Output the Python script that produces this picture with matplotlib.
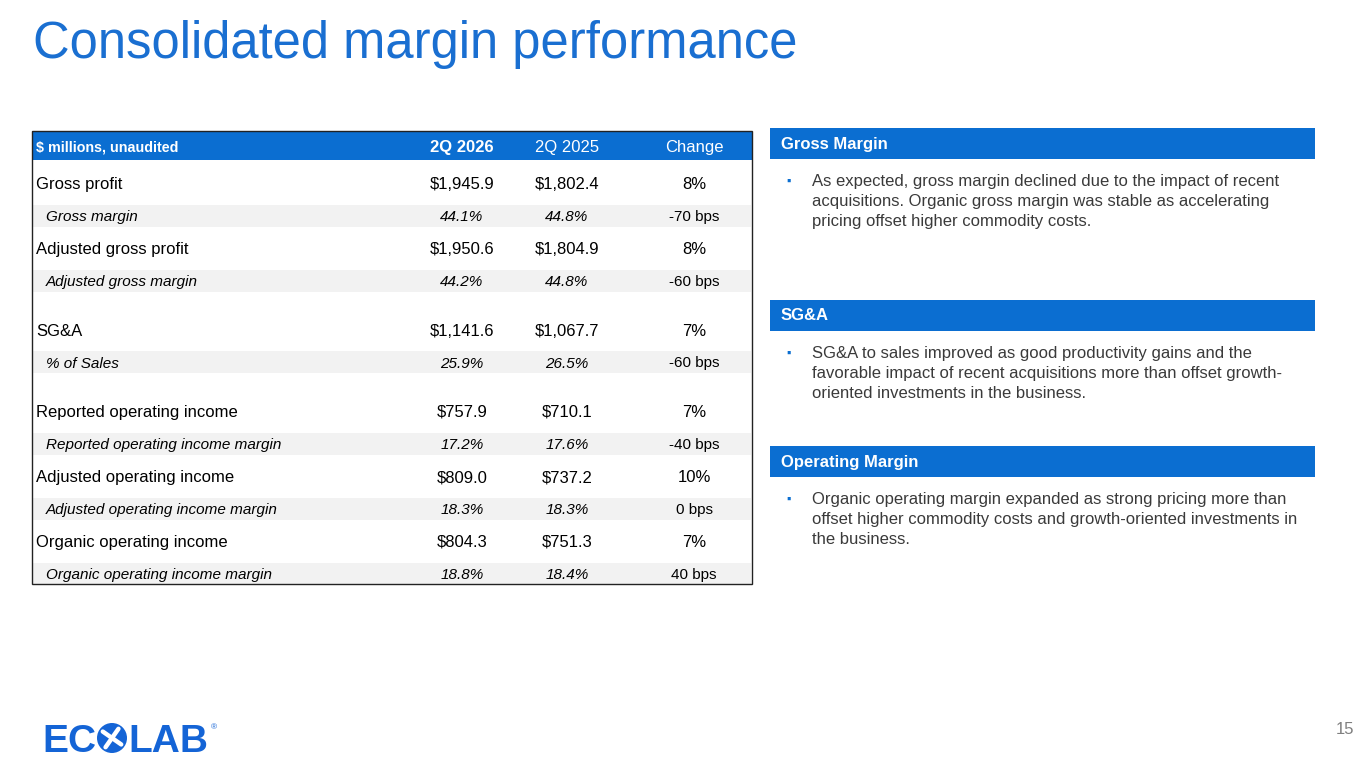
import matplotlib
matplotlib.use("Agg")
import numpy as np
import matplotlib.pyplot as plt
from matplotlib.patches import Rectangle, Circle

plt.rcParams['font.family'] = ['Liberation Sans', 'DejaVu Sans']

# table data
row_labels = ['Gross profit', 'Gross margin', 'Adjusted gross profit', 'Adjusted gross margin', None,
              'SG&A', '% of Sales', None,
              'Reported operating income', 'Reported operating income margin',
              'Adjusted operating income', 'Adjusted operating income margin',
              'Organic operating income', 'Organic operating income margin']
row_is_sub = [False, True, False, True, None, False, True, None, False, True, False, True, False, True]
q2_2026 = ['$1,945.9', '44.1%', '$1,950.6', '44.2%', None, '$1,141.6', '25.9%', None,
           '$757.9', '17.2%', '$809.0', '18.3%', '$804.3', '18.8%']
q2_2025 = ['$1,802.4', '44.8%', '$1,804.9', '44.8%', None, '$1,067.7', '26.5%', None,
           '$710.1', '17.6%', '$737.2', '18.3%', '$751.3', '18.4%']
change = ['8%', '-70 bps', '8%', '-60 bps', None, '7%', '-60 bps', None,
          '7%', '-40 bps', '10%', '0 bps', '7%', '40 bps']
col_headers = ['$ millions, unaudited', '2Q 2026', '2Q 2025', 'Change']

# commentary
sections = ['Gross Margin', 'SG&A', 'Operating Margin']
section_lines = [
    ['As expected, gross margin declined due to the impact of recent',
     'acquisitions. Organic gross margin was stable as accelerating',
     'pricing offset higher commodity costs.'],
    ['SG&A to sales improved as good productivity gains and the',
     'favorable impact of recent acquisitions more than offset growth-',
     'oriented investments in the business.'],
    ['Organic operating margin expanded as strong pricing more than',
     'offset higher commodity costs and growth-oriented investments in',
     'the business.'],
]

BLUE = '#0B6ED1'
LOGO = '#1464D6'
TXT = '#000000'
GREY_TXT = '#3A3A3A'
PX = 100 / 72  # px per pt


def put(ax, x, y, s, size, ha='left', **kw):
    # y = visual middle of capitals
    return ax.text(x, y + 0.36 * size * PX, s, fontsize=size, ha=ha, va='baseline', **kw)


fig = plt.figure(figsize=(13.65, 7.68), dpi=100)
ax = fig.add_axes([0, 0, 1, 1])
ax.set_xlim(0, 1365)
ax.set_ylim(768, 0)
ax.axis('off')

# title
put(ax, 33, 40, 'Consolidated margin performance', 36.5, color='#1A6FD1')

# table
tx0, tx1 = 32, 752
col_x = [462, 567, 694]
ax.add_patch(Rectangle((tx0, 131), tx1 - tx0, 29, color=BLUE, lw=0))
put(ax, 36, 146, col_headers[0], 10.3, color='white', weight='bold')
put(ax, col_x[0], 146, col_headers[1], 12, ha='center', color='white', weight='bold')
put(ax, col_x[1], 146, col_headers[2], 12, ha='center', color='white')
put(ax, col_x[2], 146, col_headers[3], 12, ha='center', color='white')

y = 183
for lab, sub, a, b, c in zip(row_labels, row_is_sub, q2_2026, q2_2025, change):
    if lab is None:
        y += 16.5
        continue
    if sub:
        ax.add_patch(Rectangle((tx0 + 1, y - 11), tx1 - tx0 - 2, 22, color='#F2F2F2', lw=0))
        put(ax, 46, y, lab, 11, color=TXT, style='italic')
        put(ax, col_x[0], y, a, 11, ha='center', color=TXT, style='italic')
        put(ax, col_x[1], y, b, 11, ha='center', color=TXT, style='italic')
        put(ax, col_x[2], y, c, 11, ha='center', color=TXT)
    else:
        put(ax, 36, y, lab, 12, color=TXT)
        put(ax, col_x[0], y, a, 12, ha='center', color=TXT)
        put(ax, col_x[1], y, b, 12, ha='center', color=TXT)
        put(ax, col_x[2], y, c, 12, ha='center', color=TXT)
    y += 32.5

ax.add_patch(Rectangle((tx0, 131), tx1 - tx0, 584 - 131, fill=False, ec='#222222', lw=1.0))

# commentary panels
box_tops = [128, 300, 446]
for title, lines, top in zip(sections, section_lines, box_tops):
    ax.add_patch(Rectangle((770, top), 545, 31, color=BLUE, lw=0))
    put(ax, 781, top + 14.5, title, 12, color='white', weight='bold')
    for i, line in enumerate(lines):
        ly = top + 52 + 20 * i
        if i == 0:
            put(ax, 786, ly, '\u25aa', 9, color=BLUE)
        put(ax, 812, ly, line, 12, color=GREY_TXT)

# page number
put(ax, 1345, 728, '15', 12, ha='center', color='#7F7F7F')

# logo: EC + circled X + LAB
renderer = fig.canvas.get_renderer()
inv = ax.transData.inverted()
t1 = put(ax, 42, 738, 'EC', 28, color=LOGO, weight='bold')
x_end = inv.transform(t1.get_window_extent(renderer).get_points())[1][0]
cx, r = x_end + 16, 15
ax.add_patch(Circle((cx, 738), r, color=LOGO, lw=0))
for ang in (35, 125):
    d = np.deg2rad(ang)
    ax.plot([cx - 0.75 * r * np.cos(d), cx + 0.75 * r * np.cos(d)],
            [738 - 0.75 * r * np.sin(d), 738 + 0.75 * r * np.sin(d)],
            color='white', lw=3.2, solid_capstyle='round')
t2 = put(ax, cx + r + 1, 738, 'LAB', 28, color=LOGO, weight='bold')
x_end2 = inv.transform(t2.get_window_extent(renderer).get_points())[1][0]
put(ax, x_end2 + 3, 726, '\u00ae', 6, color=LOGO)

fig.savefig('out.png', dpi=100)
